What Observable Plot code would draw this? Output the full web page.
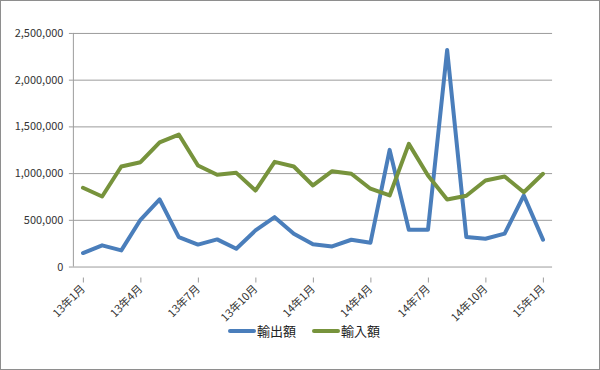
<!DOCTYPE html>
<html><head><meta charset="utf-8">
<script src="https://cdn.jsdelivr.net/npm/d3@7"></script>
<script src="https://cdn.jsdelivr.net/npm/@observablehq/plot@0.6"></script>
<style>
body{margin:0;background:#fff;}
#wrap{position:relative;width:600px;height:370px;box-sizing:border-box;border:1px solid #8e8e8e;background:#fff;overflow:hidden;font-family:"Noto Sans CJK JP",sans-serif;}
#chart{position:absolute;left:-1px;top:-1px;}
#legend{position:absolute;top:322px;left:227px;display:flex;align-items:center;font-size:13px;color:#222;line-height:16px;}
.sw{display:inline-block;width:28px;height:4px;border-radius:2px;margin-right:1px;}
.item{display:flex;align-items:center;margin-right:16px;}
</style></head><body>
<div id="wrap"><div id="chart"></div><div id="legend"></div></div>
<script>
const months = ["13年1月","13年2月","13年3月","13年4月","13年5月","13年6月","13年7月","13年8月","13年9月","13年10月","13年11月","13年12月",
  "14年1月","14年2月","14年3月","14年4月","14年5月","14年6月","14年7月","14年8月","14年9月","14年10月","14年11月","14年12月","15年1月"];
const tickLabels = ["13年1月","13年4月","13年7月","13年10月","14年1月","14年4月","14年7月","14年10月","15年1月"];
const exportSeries = [150000,232000,178000,506000,723000,321000,240000,296000,196000,392000,534000,357000,
  243000,221000,292000,261000,1254000,399000,399000,2323000,321000,303000,357000,766000,293000];
const importSeries = [848000,755000,1076000,1122000,1335000,1418000,1087000,987000,1008000,819000,1126000,1076000,
  873000,1026000,998000,838000,766000,1318000,980000,723000,763000,926000,969000,801000,998000];
const yTicks = [0,500000,1000000,1500000,2000000,2500000];
const seriesNames = ["輸出額","輸入額"];
const seriesColors = ["#4a7ebb","#77933c"];

const rows = months.flatMap((m, i) => [
  {m: i + 0.5, v: exportSeries[i], s: seriesNames[0]},
  {m: i + 0.5, v: importSeries[i], s: seriesNames[1]}
]);
const tickIdx = tickLabels.map(l => months.indexOf(l));
const axisColor = "#9c9c9c";

const chart = Plot.plot({
  width: 600, height: 320,
  marginLeft: 73, marginRight: 47, marginTop: 33, marginBottom: 53,
  style: {fontFamily: '"Noto Sans CJK JP", sans-serif', fontSize: "11px", color: "#333", overflow: "visible", background: "transparent"},
  x: {domain: [0, months.length], label: null},
  y: {domain: [0, 2500000], label: null},
  color: {domain: seriesNames, range: seriesColors},
  marks: [
    Plot.gridY(yTicks, {stroke: axisColor, strokeOpacity: 1}),
    Plot.ruleX([0], {stroke: axisColor}),
    Plot.axisY({ticks: yTicks, tickSize: 4, tickPadding: 6, tickFormat: d3.format(","), stroke: axisColor, fill: "#333", label: null}),
    Plot.axisX({ticks: tickIdx, tickFormat: d => months[d], tickRotate: -45, tickSize: 5, tickPadding: 4, stroke: axisColor, fill: "#333", label: null, dx: 10, dy: 11}),
    Plot.line(rows, {x: "m", y: "v", z: "s", stroke: "s", strokeWidth: 4, strokeLinejoin: "round", strokeLinecap: "round"})
  ]
});
document.getElementById("chart").appendChild(chart);

const legend = document.getElementById("legend");
seriesNames.forEach((n, i) => {
  const it = document.createElement("div");
  it.className = "item";
  const sw = document.createElement("span");
  sw.className = "sw";
  sw.style.background = seriesColors[i];
  const t = document.createElement("span");
  t.textContent = n;
  it.appendChild(sw); it.appendChild(t);
  legend.appendChild(it);
});
</script>
</body></html>
